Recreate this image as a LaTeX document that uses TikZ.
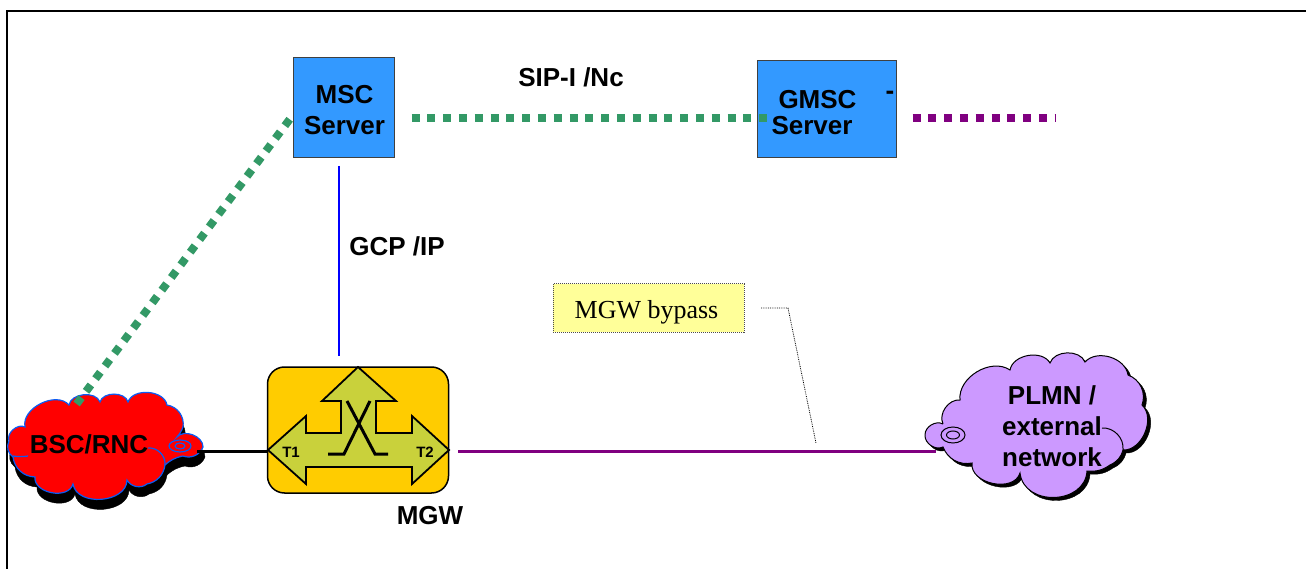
\documentclass[tikz,border=0pt]{standalone}
\usepackage{fontspec}
\setmainfont{Liberation Sans}
\newfontfamily\serifface{Liberation Serif}
\usepackage{tikz}
\tikzstyle{server}=[draw=black!75, fill=srvblue, line width=1pt, inner sep=0pt]
\tikzstyle{caption}=[inner sep=0pt, font=\fontsize{26}{31}\selectfont\bfseries, align=center]
\tikzstyle{signal}=[line width=8pt, dash pattern=on 8pt off 7.8pt]
\tikzstyle{bearer}=[line width=3pt]
\tikzstyle{lobe}=[bend left=85, looseness=1.1]
\definecolor{srvblue}{HTML}{3399FF}
\definecolor{siggreen}{HTML}{339966}
\definecolor{trkpurple}{HTML}{800080}
\definecolor{mgwgold}{HTML}{FFCC00}
\definecolor{mgwolive}{HTML}{C9D13B}
\definecolor{noteyellow}{HTML}{FFFF99}
\definecolor{plmnlilac}{HTML}{CC99FF}
\definecolor{bscedge}{HTML}{0A5CF5}
% outlines of the two clouds
\def\bscoutline{(9,441) to[bend left=70] (25,427) to[bend left=75] (69,405)
  to[bend left=75] (100,402) to[bend left=75] (128,402) to[bend left=75] (167,405)
  to[bend left=45] (183,427) to[bend left=10] (177,437) to[bend left=70] (203,447)
  to[bend left=45] (183,456) to[bend right=15] (165,465) to[bend left=35] (147,484)
  to[bend left=50] (127,480) to[lobe] (73,484) to[lobe] (35,477) to[bend left=40] (13,457)
  to[bend left=40] (9,441)}
\def\plmnoutline{(943,424) to[bend left=60] (960,400) to[bend left=65] (1010,370)
  to[bend left=70] (1050,363) to[bend left=70] (1085,362) to[bend left=65] (1128,375)
  to[bend left=45] (1142,405) to[bend left=70] (1123,450) to[bend left=25] (1110,465)
  to[bend left=20] (1087,471) to[bend left=85, looseness=1.3] (1020,473) to[lobe] (972,463)
  to[bend left=40] (943,447) to[bend left=60] (925,435) to[bend left=60] (943,424)}

\begin{document}
\begin{tikzpicture}[x=1pt, y=-1pt]
   \useasboundingbox (0,0) rectangle (1306,569);
   \draw [line width=2pt] (7,569) -- (7,11) -- (1306,11);

   \draw [fill=black, draw=black, shift={(2,10)}] \bscoutline;
   \draw [fill=red, draw=bscedge, line width=1.2pt] \bscoutline;
   \draw [draw=bscedge, line width=1.2pt] (148,448) to[bend left=50] (165,465);
   \draw [draw=bscedge, line width=1.2pt] (13,456) to[bend right=8] (28,456);
   \draw [draw=bscedge, line width=1.2pt] (180,446) ellipse (11 and 6);
   \draw [draw=bscedge, line width=1.2pt] (180,446) ellipse (5 and 3);
   \node (bsc) at (89,444) [caption] {BSC/RNC};
   \coordinate (bsctail) at (197,451.5);
   \coordinate (bsctop) at (76.6,404);

   \draw [fill=black, draw=black, shift={(3,3)}] \plmnoutline;
   \draw [fill=plmnlilac, draw=black, line width=1pt] \plmnoutline;
   \draw [draw=black, line width=1pt] (1102,428) to[bend left=50] (1123,450);
   \draw [draw=black, line width=1pt] (953,435) ellipse (12 and 8);
   \draw [draw=black, line width=1pt] (953,435) ellipse (6.5 and 4);
   \node (plmn) at (1052,426) [caption] {PLMN /\\external\\network};
   \coordinate (plmntail) at (936,451);

   \node (msc) at (343.5,108) [server, minimum width=101pt, minimum height=100pt] {};
   \node (msclabel) at (344.5,110) [caption] {MSC\\Server};
   \node (gmsc) at (826.5,109.5) [server, minimum width=139pt, minimum height=97pt] {};
   \node (gmsclabel) at (814,113) [caption, font=\fontsize{26}{26}\selectfont\bfseries, align=left]
        {\hspace*{7pt}GMSC\\Server};
   \node (dash) at (890,95) [caption] {-};
   \coordinate (sigout) at (1055,118);

   \node (mgw) at (358,430) [draw=black, fill=mgwgold, line width=1.5pt, rounded corners=17pt,
        minimum width=181pt, minimum height=126pt, inner sep=0pt] {};
   \draw [fill=mgwolive, draw=black, line width=1.8pt] (358,367) -- (396,401) -- (376,401)
        -- (376,433) -- (412,433) -- (412,416) -- (449,450) -- (412,484) -- (412,467)
        -- (306,467) -- (306,484) -- (268,450) -- (306,416) -- (306,433) -- (341,433)
        -- (341,401) -- (322,401) -- cycle;
   \draw [line width=3pt] (347,401) -- (375,454) -- (388,454);
   \draw [line width=3pt] (370,401) -- (344,454) -- (328,454);
   \node (t1) at (291,452) [caption, font=\fontsize{15}{18}\selectfont\bfseries] {T1};
   \node (t2) at (425,452) [caption, font=\fontsize{15}{18}\selectfont\bfseries] {T2};
   \node (mgwlabel) at (430,516) [caption] {MGW};
   \coordinate (mgwtop) at (339,356);
   \coordinate (mscfoot) at (339,166);
   \coordinate (mgwwest) at (268,451.5);
   \coordinate (mgweast) at (458,451);

   \node (sip) at (571,77) [caption] {SIP-I /Nc};
   \node (gcp) at (397,246) [caption] {GCP /IP};
   \node (bypass) at (648.5,308) [draw=black!70, densely dotted, fill=noteyellow, line width=1pt,
        minimum width=191pt, minimum height=48pt, inner sep=0pt] {};
   \node (bypasslabel) at (646.5,312) [inner sep=0pt, font=\serifface\fontsize{26}{30}\selectfont] {MGW bypass};
   \coordinate (bypassfrom) at (761,308);
   \coordinate (bypassbend) at (788,308);
   \coordinate (bypassto) at (816,443);

   \draw [signal, siggreen] (bsctop) -- ([xshift=-2.6pt, yshift=-11pt]msc.west);
   \draw [signal, siggreen] ([xshift=17pt, yshift=-10pt]msc.east) -- ([xshift=11pt, yshift=-8.5pt]gmsc.west);
   \draw [signal, trkpurple] ([xshift=16pt, yshift=-8.5pt]gmsc.east) -- (sigout);
   \draw [line width=2.7pt, blue] (mscfoot) -- (mgwtop);
   \draw [bearer, black] (bsctail) -- (mgwwest);
   \draw [bearer, trkpurple] (mgweast) -- (plmntail);
   \draw [densely dotted, line width=0.8pt] (bypassfrom) -- (bypassbend) -- (bypassto);
\end{tikzpicture}
\end{document}
